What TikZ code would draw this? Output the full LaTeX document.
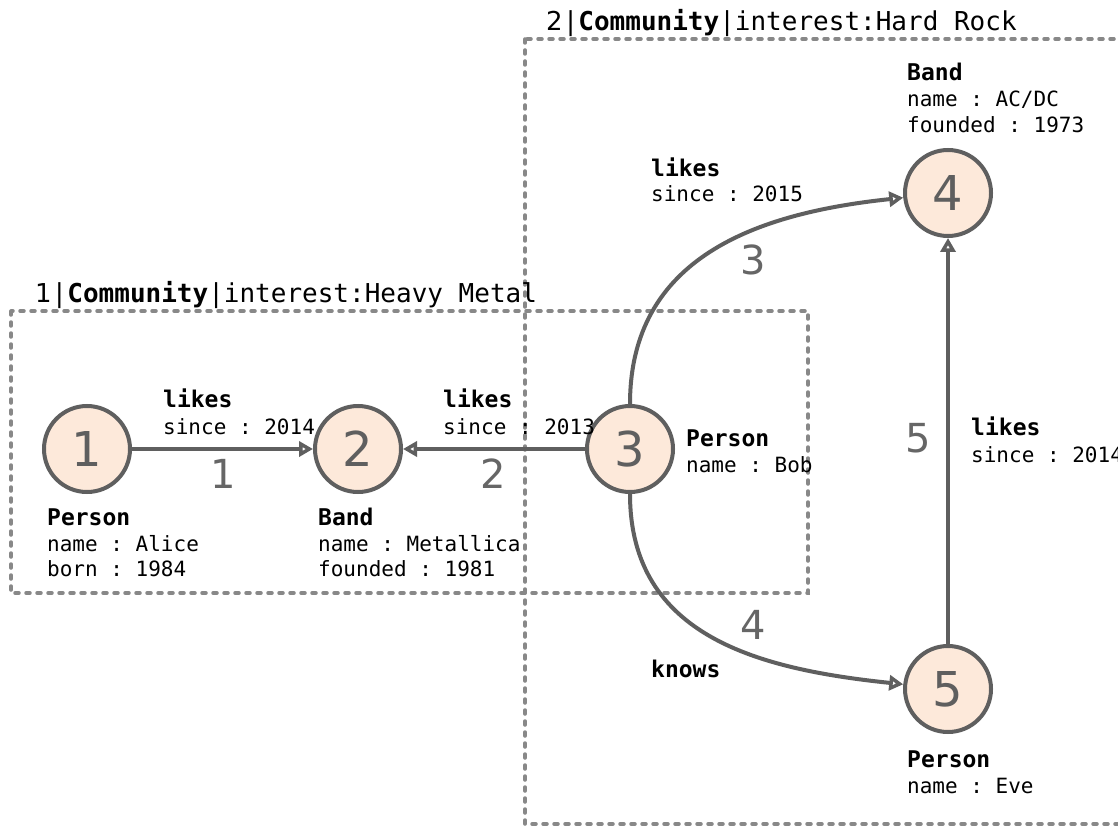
\documentclass[tikz,border=0pt]{standalone}
\usepackage{fontspec}
\setmainfont{DejaVu Sans}
\newfontfamily\monof{DejaVu Sans Mono}
\usetikzlibrary{arrows.meta}
\definecolor{nodefill}{HTML}{FDE9DA}
\definecolor{edgecol}{HTML}{5F5F5F}
\definecolor{numcol}{HTML}{666666}
\definecolor{boxcol}{HTML}{888888}
\frenchspacing
\begin{document}
\begin{tikzpicture}[x=1pt,y=-1pt,
  vertex/.style={circle, draw=edgecol, line width=4pt, fill=nodefill, minimum size=86pt, inner sep=0pt, text=edgecol, font=\fontsize{48}{48}\selectfont},
  lbl/.style={anchor=base west, inner sep=0pt, font=\monof\fontsize{21}{26}\selectfont},
  lblb/.style={anchor=base west, inner sep=0pt, font=\monof\bfseries\fontsize{23}{26}\selectfont},
  ttl/.style={anchor=base west, inner sep=0pt, font=\monof\fontsize{26}{30}\selectfont},
  enum/.style={inner sep=0pt, text=numcol, font=\fontsize{40}{40}\selectfont},
  cbox/.style={draw=boxcol, line width=3.5pt, line cap=round, dash pattern=on 4pt off 7pt},
  rel/.style={draw=edgecol, line width=4pt, -{Triangle[open,length=14pt,width=15pt,line width=3.5pt]}}]
\useasboundingbox (0,0) rectangle (1118,826);
\clip (0,0) rectangle (1118,826);
\fill[white] (0,0) rectangle (1118,826);

% community boxes
\draw[cbox] (11,311) rectangle (808,593);
\draw[cbox] (525,39) rectangle (1140,824);
\node[ttl] (t1) at (35,302) {{\rmfamily 1}|\textbf{Community}|interest:Heavy Metal};
\node[ttl] (t2) at (546,31) {{\rmfamily 2}|\textbf{Community}|interest:Hard Rock};

% vertices
\node[vertex] (n1) at (87,449) {1};
\node[vertex] (n2) at (358,449) {2};
\node[vertex] (n3) at (630,449) {3};
\node[vertex] (n4) at (948,193) {4};
\node[vertex] (n5) at (948,689) {5};

% edges
\draw[rel] (n1) -- (n2);
\draw[rel] (n3) -- (n2);
\draw[rel] (n3.north) to[out=90,in=186,looseness=1.1] (n4);
\draw[rel] (n3.south) to[out=-90,in=174,looseness=1.1] (n5);
\draw[rel] (n5) -- (n4);

% edge numbers
\node[enum] (e1) at (223,474) {1};
\node[enum] (e2) at (493,474) {2};
\node[enum] (e3) at (753,260) {3};
\node[enum] (e4) at (753,625) {4};
\node[enum] (e5) at (918,438) {5};

% edge labels
\node[lblb] (l1a) at (163,407) {likes};
\node[lbl]  (l1b) at (163,434) {since : 2014};
\node[lblb] (l2a) at (443,407) {likes};
\node[lbl]  (l2b) at (443,434) {since : 2013};
\node[lblb] (l3a) at (651,177) {likes};
\node[lbl]  (l3b) at (651,202) {since : 2015};
\node[lblb] (l5a) at (971,435) {likes};
\node[lbl]  (l5b) at (971,462) {since : 2014};
\node[lblb] (l4a) at (651,677) {knows};

% vertex labels
\node[lblb] (p1a) at (47,525) {Person};
\node[lbl]  (p1b) at (47,551) {name : Alice};
\node[lbl]  (p1c) at (47,576) {born : 1984};
\node[lblb] (p2a) at (318,525) {Band};
\node[lbl]  (p2b) at (318,551) {name : Metallica};
\node[lbl]  (p2c) at (318,576) {founded : 1981};
\node[lblb] (p3a) at (686,446) {Person};
\node[lbl]  (p3b) at (686,472) {name : Bob};
\node[lblb] (p4a) at (907,81) {Band};
\node[lbl]  (p4b) at (907,107) {name : AC/DC};
\node[lbl]  (p4c) at (907,133) {founded : 1973};
\node[lblb] (p5a) at (907,767) {Person};
\node[lbl]  (p5b) at (907,793) {name : Eve};
\end{tikzpicture}
\end{document}
